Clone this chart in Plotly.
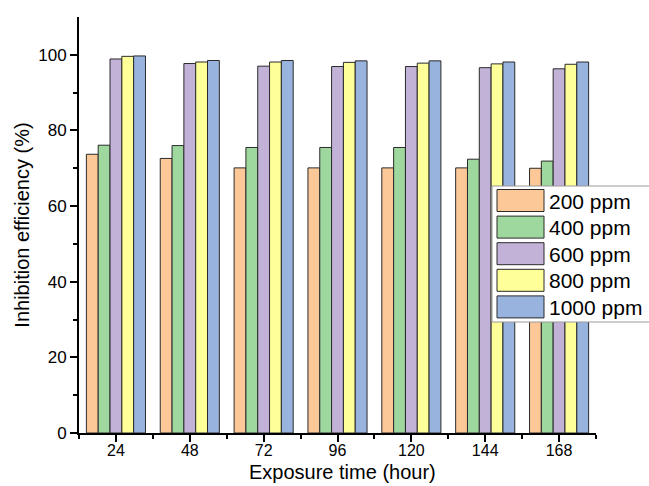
import plotly.graph_objects as go

hours = [24, 48, 72, 96, 120, 144, 168]
series_names = ["200 ppm", "400 ppm", "600 ppm", "800 ppm", "1000 ppm"]
ie_200 = [73.7, 72.6, 70.1, 70.1, 70.1, 70.1, 70.0]
ie_400 = [76.1, 76.0, 75.5, 75.5, 75.5, 72.4, 71.9]
ie_600 = [98.9, 97.7, 97.0, 96.9, 96.9, 96.6, 96.3]
ie_800 = [99.6, 98.1, 98.1, 98.0, 97.8, 97.6, 97.5]
ie_1000 = [99.7, 98.5, 98.5, 98.4, 98.4, 98.1, 98.1]
series_values = [ie_200, ie_400, ie_600, ie_800, ie_1000]
colors = ["#FDC897", "#9ED89E", "#C3B2D8", "#FFFF99", "#98B4DE"]

W, H = 649, 486
L, R, T, B = 79, 53, 17, 53
pw, ph = W - L - R, H - T - B

def px(x):
    return (x - L) / pw

def py(y):
    return (H - B - y) / ph

FONT = "Arial, Liberation Sans, sans-serif"

fig = go.Figure()
for name, vals, col in zip(series_names, series_values, colors):
    fig.add_trace(go.Bar(
        x=hours, y=vals, name=name,
        marker=dict(color=col, line=dict(color="#2a2a2a", width=1)),
        showlegend=False,
    ))

# custom legend (large swatches like the original)
shapes = [dict(type="rect", xref="paper", yref="paper",
               x0=px(492), x1=px(660), y0=py(322), y1=py(186),
               fillcolor="white", line=dict(color="#9a9a9a", width=1), layer="above")]
annotations = []
for i, (name, col) in enumerate(zip(series_names, colors)):
    top = 189.5 + i * 26.6
    shapes.append(dict(type="rect", xref="paper", yref="paper",
                       x0=px(497), x1=px(544), y0=py(top + 22), y1=py(top),
                       fillcolor=col, line=dict(color="#2a2a2a", width=1), layer="above"))
    annotations.append(dict(xref="paper", yref="paper", x=px(547), y=py(top + 11.5),
                            text=name, showarrow=False, xanchor="left", yanchor="middle",
                            font=dict(family=FONT, size=21, color="black")))

# x axis title placed like the original
annotations.append(dict(xref="paper", yref="paper", x=px(342), y=py(472),
                        text="Exposure time (hour)", showarrow=False,
                        xanchor="center", yanchor="middle",
                        font=dict(family=FONT, size=20, color="black")))

fig.update_layout(
    width=W, height=H,
    margin=dict(l=L, r=R, t=T, b=B, pad=0),
    paper_bgcolor="white", plot_bgcolor="white",
    barmode="group", bargap=0.2, bargroupgap=0,
    font=dict(family=FONT, size=17, color="black"),
    shapes=shapes, annotations=annotations,
    showlegend=False,
)
fig.update_xaxes(
    automargin=False,
    range=[12, 180], tickmode="array", tickvals=hours, ticktext=[str(h) for h in hours],
    showgrid=False, zeroline=False, showline=True, linecolor="black", linewidth=2,
    ticks="outside", ticklen=7, tickwidth=2, tickcolor="black",
    ticklabelstandoff=-5,
    minor=dict(tickmode="array", tickvals=[12, 36, 60, 84, 108, 132, 156, 180],
               ticks="outside", ticklen=4, tickwidth=2, tickcolor="black", showgrid=False),
    tickfont=dict(size=16),
)
fig.update_yaxes(
    automargin=False,
    range=[0, 110], tickmode="array", tickvals=[0, 20, 40, 60, 80, 100],
    showgrid=False, zeroline=False, showline=True, linecolor="black", linewidth=2,
    ticks="outside", ticklen=7, tickwidth=2, tickcolor="black",
    minor=dict(tickmode="array", tickvals=[10, 30, 50, 70, 90],
               ticks="outside", ticklen=4, tickwidth=2, tickcolor="black", showgrid=False),
    tickfont=dict(size=17),
    title=dict(text="Inhibition efficiency (%)", font=dict(size=20), standoff=3),
)

fig.write_html("out.html")
